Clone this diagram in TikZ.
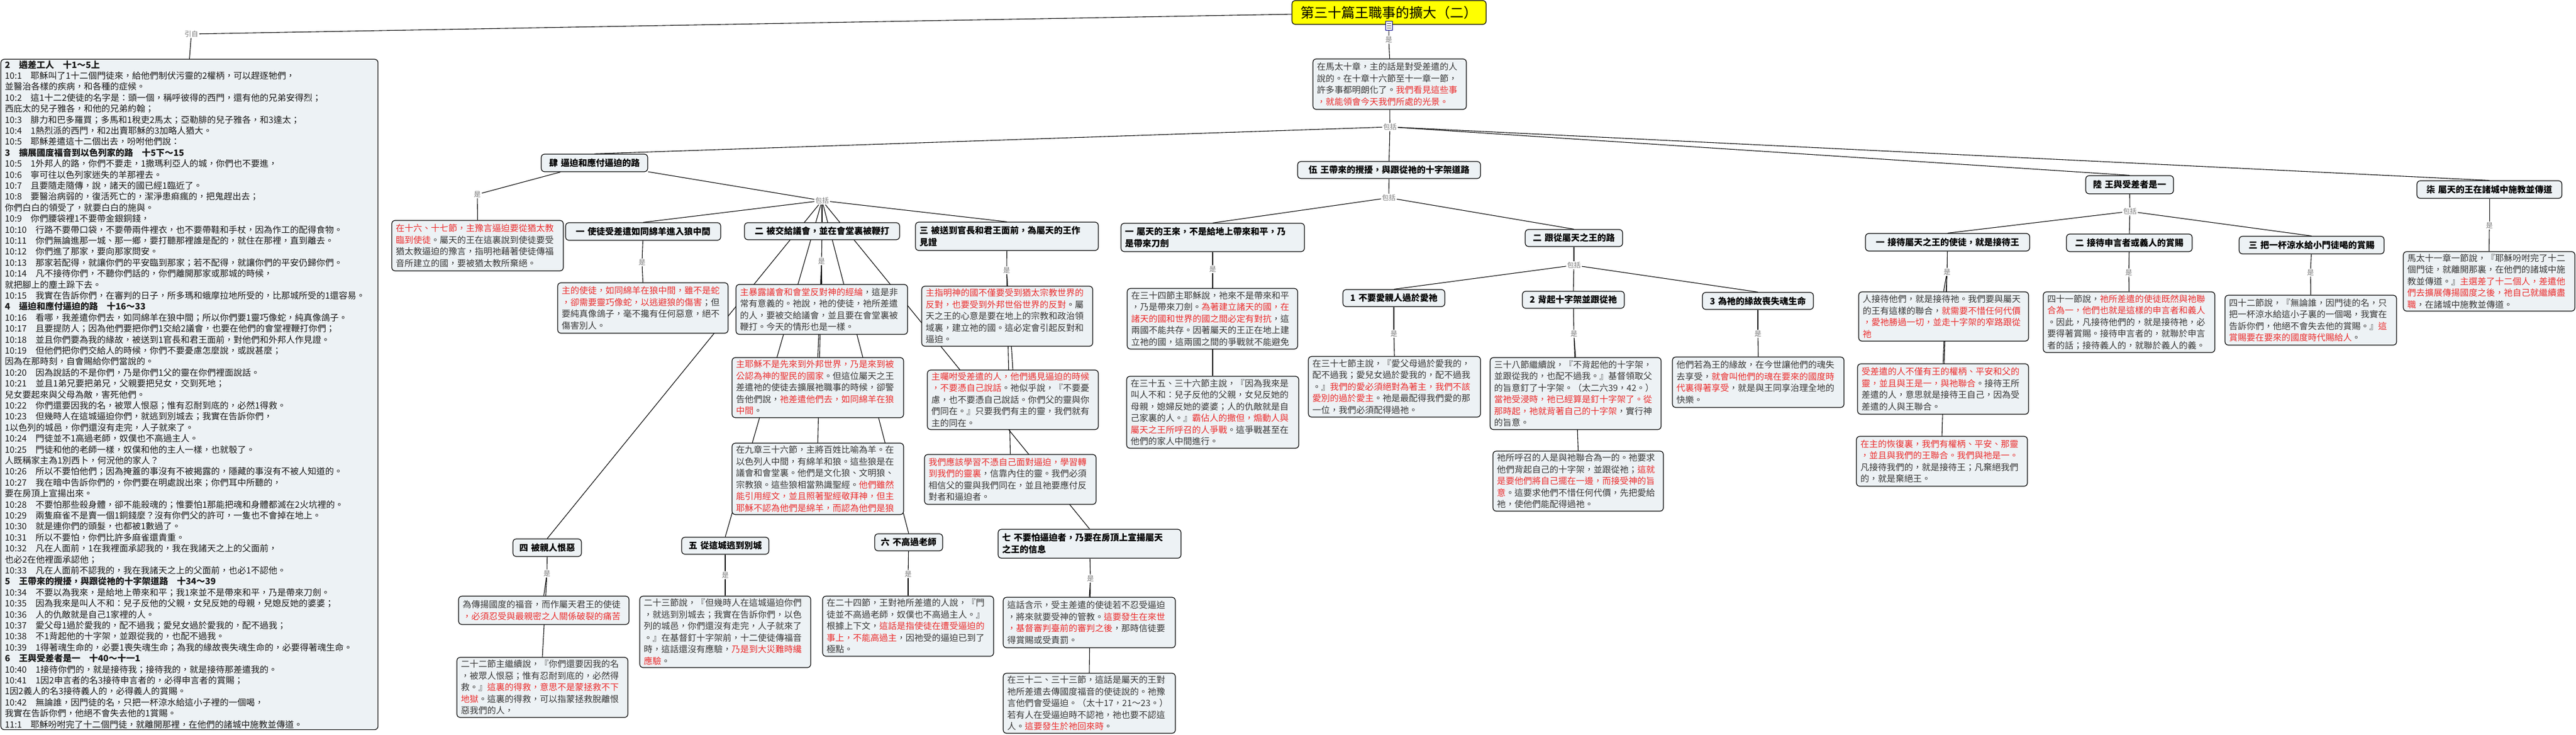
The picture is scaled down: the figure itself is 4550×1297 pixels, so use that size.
\documentclass[tikz,border=0pt]{standalone}
\usepackage{fontspec}
\setmainfont{Noto Sans CJK TC}
\usetikzlibrary{backgrounds}
\definecolor{boxfill}{RGB}{237,242,245}
\definecolor{bodygray}{RGB}{55,55,55}
\definecolor{redtxt}{RGB}{235,45,45}
\definecolor{lblgray}{RGB}{120,120,120}
\definecolor{titleyellow}{RGB}{255,255,0}
\newcommand{\redt}[1]{\textcolor{redtxt}{#1}}
\newcommand{\concept}[7]{%
  \pgfmathsetmacro\cbw{#4-#2}%
  \pgfmathsetmacro\cbh{#5-#3}%
  \pgfmathsetmacro\cbcx{(#2+#4)/2}%
  \pgfmathsetmacro\cbcy{(#3+#5)/2}%
  \pgfmathsetmacro\cbtw{#4-#2-14}%
  \node[#6, minimum width=\cbw pt, minimum height=\cbh pt, text width=\cbtw pt] (#1) at (\cbcx,\cbcy) {#7};%
}
\begin{document}
\begin{tikzpicture}[x=1pt,y=-1pt,
  cpt/.style={draw=black, line width=1.2pt, rounded corners=6pt, fill=boxfill, inner xsep=7pt, inner ysep=2pt, align=left, text=bodygray, font=\fontsize{15.5}{20.5}\selectfont},
  hd/.style={cpt, text=black, font=\fontsize{15.5}{21}\selectfont\bfseries},
  hdc/.style={hd, align=center},
  lbl/.style={fill=white, inner sep=1.5pt, text=lblgray, font=\fontsize{12}{12}\selectfont},
  conn/.style={draw=black, line width=1.1pt}]
\useasboundingbox (0,0) rectangle (4550,1297);

% ---------- title and top ----------
\node[draw=black, line width=1.2pt, rounded corners=6pt, fill=titleyellow, minimum width=343pt, minimum height=42pt, inner sep=0pt, font=\fontsize{24}{24}\selectfont] (title) at (2453.5,22) {第三十篇王職事的擴大（二）};
\node[draw=blue!55!black, fill=white, line width=0.8pt, minimum width=12pt, minimum height=16pt, inner sep=0pt] (docicon) at (2453,45) {};
\foreach \dy in {-4,0,4} \draw[line width=0.8pt, black!70] ([xshift=-3.5pt, yshift=\dy pt]docicon.center) -- ++(7pt,0);

\node[lbl] (lYin) at (338,60) {引自};
\node[lbl] (l0) at (2453,70) {是};
\node[lbl] (l1) at (2455,224) {包括};

\concept{TB}{2319}{104}{2590}{193}{cpt}{在馬太十章，主的話是對受差遣的人\\說的。在十章十六節至十一章一節，\\許多事都明朗化了。\redt{我們看見這些事}\\\redt{，就能領會今天我們所處的光景。}}

% ---------- left scripture box ----------
\node[cpt, anchor=north west, text=black!90, font=\fontsize{15.5}{19.4}\selectfont, text width=652pt, minimum height=1183pt] (LB) at (1,104) {%
{\bfseries 2　遴差工人　十1～5上}\\
10:1　耶穌叫了1十二個門徒來，給他們制伏污靈的2權柄，可以趕逐牠們，\\
並醫治各樣的疾病，和各種的症候。\\
10:2　這1十二2使徒的名字是：頭一個，稱呼彼得的西門，還有他的兄弟安得烈；\\
西庇太的兒子雅各，和他的兄弟約翰；\\
10:3　腓力和巴多羅買；多馬和1稅吏2馬太；亞勒腓的兒子雅各，和3達太；\\
10:4　1熱烈派的西門，和2出賣耶穌的3加略人猶大。\\
10:5　耶穌差遣這十二個出去，吩咐他們說：\\
{\bfseries 3　擴展國度福音到以色列家的路　十5下～15}\\
10:5　1外邦人的路，你們不要走，1撒瑪利亞人的城，你們也不要進，\\
10:6　寧可往以色列家迷失的羊那裡去。\\
10:7　且要隨走隨傳，說，諸天的國已經1臨近了。\\
10:8　要醫治病弱的，復活死亡的，潔淨患痲瘋的，把鬼趕出去；\\
你們白白的領受了，就要白白的施與。\\
10:9　你們腰袋裡1不要帶金銀銅錢，\\
10:10　行路不要帶口袋，不要帶兩件裡衣，也不要帶鞋和手杖，因為作工的配得食物。\\
10:11　你們無論進那一城、那一鄉，要打聽那裡誰是配的，就住在那裡，直到離去。\\
10:12　你們進了那家，要向那家問安。\\
10:13　那家若配得，就讓你們的平安臨到那家；若不配得，就讓你們的平安仍歸你們。\\
10:14　凡不接待你們，不聽你們話的，你們離開那家或那城的時候，\\
就把腳上的塵土跺下去。\\
10:15　我實在告訴你們，在審判的日子，所多瑪和蛾摩拉地所受的，比那城所受的1還容易。\\
{\bfseries 4　逼迫和應付逼迫的路　十16～33}\\
10:16　看哪，我差遣你們去，如同綿羊在狼中間；所以你們要1靈巧像蛇，純真像鴿子。\\
10:17　且要提防人；因為他們要把你們1交給2議會，也要在他們的會堂裡鞭打你們；\\
10:18　並且你們要為我的緣故，被送到1官長和君王面前，對他們和外邦人作見證。\\
10:19　但他們把你們交給人的時候，你們不要憂慮怎麼說，或說甚麼；\\
因為在那時刻，自會賜給你們當說的。\\
10:20　因為說話的不是你們，乃是你們1父的靈在你們裡面說話。\\
10:21　並且1弟兄要把弟兄，父親要把兒女，交到死地；\\
兒女要起來與父母為敵，害死他們。\\
10:22　你們還要因我的名，被眾人恨惡；惟有忍耐到底的，必然1得救。\\
10:23　但幾時人在這城逼迫你們，就逃到別城去；我實在告訴你們，\\
1以色列的城邑，你們還沒有走完，人子就來了。\\
10:24　門徒並不1高過老師，奴僕也不高過主人。\\
10:25　門徒和他的老師一樣，奴僕和他的主人一樣，也就彀了。\\
人既稱家主為1別西卜，何況他的家人？\\
10:26　所以不要怕他們；因為掩蓋的事沒有不被揭露的，隱藏的事沒有不被人知道的。\\
10:27　我在暗中告訴你們的，你們要在明處說出來；你們耳中所聽的，\\
要在房頂上宣揚出來。\\
10:28　不要怕那些殺身體，卻不能殺魂的；惟要怕1那能把魂和身體都滅在2火坑裡的。\\
10:29　兩隻麻雀不是賣一個1銅錢麼？沒有你們父的許可，一隻也不會掉在地上。\\
10:30　就是連你們的頭髮，也都被1數過了。\\
10:31　所以不要怕，你們比許多麻雀還貴重。\\
10:32　凡在人面前，1在我裡面承認我的，我在我諸天之上的父面前，\\
也必2在他裡面承認他；\\
10:33　凡在人面前不認我的，我在我諸天之上的父面前，也必1不認他。\\
{\bfseries 5　王帶來的攪擾，與跟從祂的十字架道路　十34～39}\\
10:34　不要以為我來，是給地上帶來和平；我1來並不是帶來和平，乃是帶來刀劍。\\
10:35　因為我來是叫人不和：兒子反他的父親，女兒反她的母親，兒媳反她的婆婆；\\
10:36　人的仇敵就是自己1家裡的人。\\
10:37　愛父母1過於愛我的，配不過我；愛兒女過於愛我的，配不過我；\\
10:38　不1背起他的十字架，並跟從我的，也配不過我。\\
10:39　1得著魂生命的，必要1喪失魂生命；為我的緣故喪失魂生命的，必要得著魂生命。\\
{\bfseries 6　王與受差者是一　十40～十一1}\\
10:40　1接待你們的，就是接待我；接待我的，就是接待那差遣我的。\\
10:41　1因2申言者的名3接待申言者的，必得申言者的賞賜；\\
1因2義人的名3接待義人的，必得義人的賞賜。\\
10:42　無論誰，因門徒的名，只把一杯涼水給這小子裡的一個喝，\\
我實在告訴你們，他絕不會失去他的1賞賜。\\
11:1　耶穌吩咐完了十二個門徒，就離開那裡，在他們的諸城中施教並傳道。};

% ---------- 肆 ----------
\concept{S4}{956}{272}{1144}{303}{hdc}{肆 逼迫和應付逼迫的路}
\node[lbl] (lS4) at (843,343) {是};
\node[lbl] (lB4) at (1452,354) {包括};
\concept{RB}{692}{389}{995}{478}{cpt}{\redt{在十六、十七節，主豫言逼迫要從猶太教}\\\redt{臨到使徒}。屬天的王在這裏說到使徒要受\\猶太教逼迫的豫言，指明祂藉著使徒傳福\\音所建立的國，要被猶太教所棄絕。}
\concept{S4a}{999}{393}{1273}{424}{hdc}{一 使徒受差遣如同綿羊進入狼中間}
\concept{S4b}{1315}{393}{1589}{423}{hdc}{二 被交給議會，並在會堂裏被鞭打}
\concept{S4c}{1617}{392}{1940}{442}{hd}{三 被送到官長和君王面前，為屬天的王作\\見證}
\concept{S4d}{906}{951}{1027}{982}{hdc}{四 被親人恨惡}
\concept{S4e}{1204}{948}{1358}{978}{hdc}{五 從這城逃到別城}
\concept{S4f}{1545}{942}{1665}{972}{hdc}{六 不高過老師}
\concept{S4g}{1763}{934}{2086}{985}{hd}{七 不要怕逼迫者，乃要在房頂上宣揚屬天\\之王的信息}

\node[lbl] (l4a) at (1134,463) {是};
\node[lbl] (l4b) at (1451,461) {是};
\node[lbl] (l4c) at (1778,477) {是};
\node[lbl] (l4d) at (966,1012) {是};
\node[lbl] (l4e) at (1281,1015) {是};
\node[lbl] (l4f) at (1604,1013) {是};
\node[lbl] (l4g) at (1926,1021) {是};

\concept{A1}{985}{499}{1286}{588}{cpt}{\redt{主的使徒，如同綿羊在狼中間，雖不是蛇}\\\redt{，卻需要靈巧像蛇，以逃避狼的傷害}；但\\要純真像鴿子，毫不攙有任何惡意，絕不\\傷害別人。}
\concept{A}{1300}{502}{1603}{590}{cpt}{\redt{主暴露議會和會堂反對神的經綸}，這是非\\常有意義的。祂說，祂的使徒，祂所差遣\\的人，要被交給議會，並且要在會堂裏被\\鞭打。今天的情形也是一樣。}
\concept{B}{1293}{631}{1596}{737}{cpt}{\redt{主耶穌不是先來到外邦世界，乃是來到被}\\\redt{公認為神的聖民的國家}。但這位屬天之王\\差遣祂的使徒去擴展祂職事的時候，卻警\\告他們說，\redt{祂差遣他們去，如同綿羊在狼}\\\redt{中間}。}
\concept{C}{1293}{782}{1596}{908}{cpt}{在九章三十六節，主將百姓比喻為羊。在\\以色列人中間，有綿羊和狼。這些狼是在\\議會和會堂裏。他們是文化狼、文明狼、\\宗教狼。這些狼相當熟識聖經。\redt{他們雖然}\\\redt{能引用經文，並且照著聖經敬拜神，但主}\\\redt{耶穌不認為他們是綿羊，而認為他們是狼}}
\concept{D}{1628}{505}{1930}{611}{cpt}{\redt{主指明神的國不僅要受到猶太宗教世界的}\\\redt{反對，也要受到外邦世俗世界的反對}。屬\\天之王的心意是要在地上的宗教和政治領\\域裏，建立祂的國。這必定會引起反對和\\逼迫。}
\concept{E}{1638}{653}{1940}{758}{cpt}{\redt{主囑咐受差遣的人，他們遇見逼迫的時候}\\\redt{，不要憑自己說話}。祂似乎說，『不要憂\\慮，也不要憑自己說話。你們父的靈與你\\們同在。』只要我們有主的靈，我們就有\\主的同在。}
\concept{F}{1633}{802}{1936}{890}{cpt}{\redt{我們應該學習不憑自己面對逼迫，學習轉}\\\redt{到我們的靈裏}，信靠內住的靈。我們必須\\相信父的靈與我們同在，並且祂要應付反\\對者和逼迫者。}
\concept{G}{810}{1052}{1111}{1102}{cpt}{為傳揚國度的福音，而作屬天君王的使徒\\\redt{，必須忍受與最親密之人關係破裂的痛苦}}
\concept{H}{807}{1160}{1109}{1266}{cpt}{二十二節主繼續說，『你們還要因我的名\\，被眾人恨惡；惟有忍耐到底的，必然得\\救。』\redt{這裏的得救，意思不是蒙拯救不下}\\\redt{地獄}。這裏的得救，可以指蒙拯救脫離恨\\惡我們的人，}
\concept{I}{1130}{1052}{1432}{1178}{cpt}{二十三節說，『但幾時人在這城逼迫你們\\，就逃到別城去；我實在告訴你們，以色\\列的城邑，你們還沒有走完，人子就來了\\。』在基督釘十字架前，十二使徒傳福音\\時，這話還沒有應驗，\redt{乃是到大災難時纔}\\\redt{應驗}。}
\concept{J}{1453}{1052}{1755}{1158}{cpt}{在二十四節，王對祂所差遣的人說，『門\\徒並不高過老師，奴僕也不高過主人。』\\根據上下文，\redt{這話是指使徒在遭受逼迫的}\\\redt{事上，不能高過主}，因祂受的逼迫已到了\\極點。}
\concept{K}{1772}{1054}{2076}{1143}{cpt}{這話含示，受主差遣的使徒若不忍受逼迫\\，將來就要受神的管教。\redt{這要發生在來世}\\\redt{，基督審判臺前的審判之後}，那時信徒要\\得賞賜或受責罰。}
\concept{L}{1772}{1188}{2076}{1294}{cpt}{在三十二、三十三節，這話是屬天的王對\\祂所差遣去傳國度福音的使徒說的。祂豫\\言他們會受逼迫。（太十17，21～23。）\\若有人在受逼迫時不認祂，祂也要不認這\\人。\redt{這要發生於祂回來時}。}

% ---------- 伍 ----------
\concept{S5}{2292}{285}{2615}{315}{hdc}{伍 王帶來的攪擾，與跟從祂的十字架道路}
\node[lbl] (l5) at (2453,349) {包括};
\concept{S5a}{1980}{394}{2304}{444}{hd}{一 屬天的王來，不是給地上帶來和平，乃\\是帶來刀劍}
\concept{S5b}{2694}{405}{2866}{435}{hdc}{二 跟從屬天之王的路}
\node[lbl] (l5a) at (2142,475) {是};
\node[lbl] (l5b) at (2780,468) {包括};
\concept{X1}{1991}{509}{2292}{616}{cpt}{在三十四節主耶穌說，祂來不是帶來和平\\，乃是帶來刀劍。\redt{為著建立諸天的國，在}\\\redt{諸天的國和世界的國之間必定有對抗}，這\\兩國不能共存。因著屬天的王正在地上建\\立祂的國，這兩國之間的爭戰就不能避免}
\concept{M}{1990}{664}{2294}{791}{cpt}{在三十五、三十六節主說，『因為我來是\\叫人不和：兒子反他的父親，女兒反她的\\母親，媳婦反她的婆婆；人的仇敵就是自\\己家裏的人。』\redt{霸佔人的撒但，煽動人與}\\\redt{屬天之王所呼召的人爭戰}。這爭戰甚至在\\他們的家人中間進行。}
\concept{S5b1}{2372}{511}{2552}{541}{hdc}{1 不要愛親人過於愛祂}
\concept{S5b2}{2689}{514}{2869}{544}{hdc}{2 背起十字架並跟從祂}
\concept{S5b3}{3007}{516}{3203}{546}{hdc}{3 為祂的緣故喪失魂生命}
\node[lbl] (l5b1) at (2462,589) {是};
\node[lbl] (l5b2) at (2780,589) {是};
\node[lbl] (l5b3) at (3105,589) {是};
\concept{N}{2311}{629}{2615}{736}{cpt}{在三十七節主說，『愛父母過於愛我的，\\配不過我；愛兒女過於愛我的，配不過我\\。』\redt{我們的愛必須絕對為著主，我們不該}\\\redt{愛別的過於愛主}。祂是最配得我們愛的那\\一位，我們必須配得過祂。}
\concept{O}{2632}{631}{2934}{758}{cpt}{三十八節繼續說，『不背起他的十字架，\\並跟從我的，也配不過我。』基督領取父\\的旨意釘了十字架。（太二六39，42。）\\\redt{當祂受浸時，祂已經算是釘十字架了。從}\\\redt{那時起，祂就背著自己的十字架}，實行神\\的旨意。}
\concept{P}{2637}{796}{2938}{902}{cpt}{祂所呼召的人是與祂聯合為一的。祂要求\\他們背起自己的十字架，並跟從祂；\redt{這就}\\\redt{是要他們將自己擺在一邊，而接受神的旨}\\\redt{意}。這要求他們不惜任何代價，先把愛給\\祂，使他們能配得過祂。}
\concept{Q}{2954}{630}{3257}{719}{cpt}{他們若為王的緣故，在今世讓他們的魂失\\去享受，\redt{就會叫他們的魂在要來的國度時}\\\redt{代裏得著享受}，就是與王同享治理全地的\\快樂。}

% ---------- 陸 ----------
\concept{S6}{3684}{310}{3839}{342}{hdc}{陸 王與受差者是一}
\node[lbl] (l6) at (3762,373) {包括};
\concept{S6a}{3295}{412}{3585}{443}{hdc}{一 接待屬天之王的使徒，就是接待王}
\concept{S6b}{3650}{413}{3872}{444}{hdc}{二 接待申言者或義人的賞賜}
\concept{S6c}{3955}{417}{4211}{448}{hdc}{三 把一杯涼水給小門徒喝的賞賜}
\node[lbl] (l6a) at (3439,480) {是};
\node[lbl] (l6b) at (3760,481) {是};
\node[lbl] (l6c) at (4081,481) {是};
\concept{R}{3283}{515}{3583}{602}{cpt}{人接待他們，就是接待祂。我們要與屬天\\的王有這樣的聯合，\redt{就需要不惜任何代價}\\\redt{，愛祂勝過一切，並走十字架的窄路跟從}\\\redt{祂}}
\concept{S}{3281}{642}{3583}{731}{cpt}{\redt{受差遣的人不僅有王的權柄、平安和父的}\\\redt{靈，並且與王是一，與祂聯合}。接待王所\\差遣的人，意思就是接待王自己，因為受\\差遣的人與王聯合。}
\concept{T}{3279}{770}{3581}{858}{cpt}{\redt{在主的恢復裏，我們有權柄、平安、那靈}\\\redt{，並且與我們的王聯合。我們與祂是一。}\\凡接待我們的，就是接待王；凡棄絕我們\\的，就是棄絕王。}
\concept{U}{3609}{515}{3912}{622}{cpt}{四十一節說，\redt{祂所差遣的使徒既然與祂聯}\\\redt{合為一，他們也就是這樣的申言者和義人}\\。因此，凡接待他們的，就是接待祂，必\\要得著賞賜。接待申言者的，就聯於申言\\者的話；接待義人的，就聯於義人的義。}
\concept{V}{3930}{521}{4233}{609}{cpt}{四十二節說，『無論誰，因門徒的名，只\\把一杯涼水給這小子裏的一個喝，我實在\\告訴你們，他絕不會失去他的賞賜。』\redt{這}\\\redt{賞賜要在要來的國度時代賜給人}。}

% ---------- 柒 ----------
\concept{S7}{4269}{319}{4525}{350}{hdc}{柒 屬天的王在諸城中施教並傳道}
\node[lbl] (l7) at (4397,398) {是};
\concept{W}{4245}{444}{4548}{549}{cpt}{馬太十一章一節說，『耶穌吩咐完了十二\\個門徒，就離開那裏，在他們的諸城中施\\教並傳道。』\redt{主選差了十二個人，差遣他}\\\redt{們去擴展傳揚國度之後，祂自己就繼續盡}\\\redt{職}，在諸城中施教並傳道。}

% ---------- connectors (behind the boxes) ----------
\begin{scope}[on background layer]
\fill[white] (0,0) rectangle (4550,1297);
\draw[conn] (title) -- (lYin); \draw[conn] (lYin) -- (LB.north);
\draw[conn] (title) -- (l0); \draw[conn] (l0) -- (TB.north);
\draw[conn] (TB) -- (l1);
\foreach \c in {S4,S5,S6,S7} \draw[conn] (l1) -- (\c.north);
% 肆
\draw[conn] (S4) -- (lS4); \draw[conn] (lS4) -- (RB.north);
\draw[conn] (S4) -- (lB4);
\foreach \c in {S4a,S4b,S4c,S4d,S4e,S4f,S4g} \draw[conn] (lB4) -- (\c.north);
\draw[conn] (S4a) -- (l4a); \draw[conn] (l4a) -- (A1.north);
\draw[conn] (S4b) -- (l4b);
\foreach \c in {A,B,C} \draw[conn] (l4b) -- (\c.north);
\draw[conn] (S4c) -- (l4c);
\foreach \c in {D,E,F} \draw[conn] (l4c) -- (\c.north);
\draw[conn] (S4d) -- (l4d);
\foreach \c in {G,H} \draw[conn] (l4d) -- (\c.north);
\draw[conn] (S4e) -- (l4e); \draw[conn] (l4e) -- (I.north);
\draw[conn] (S4f) -- (l4f); \draw[conn] (l4f) -- (J.north);
\draw[conn] (S4g) -- (l4g);
\foreach \c in {K,L} \draw[conn] (l4g) -- (\c.north);
% 伍
\draw[conn] (S5) -- (l5);
\foreach \c in {S5a,S5b} \draw[conn] (l5) -- (\c.north);
\draw[conn] (S5a) -- (l5a);
\foreach \c in {X1,M} \draw[conn] (l5a) -- (\c.north);
\draw[conn] (S5b) -- (l5b);
\foreach \c in {S5b1,S5b2,S5b3} \draw[conn] (l5b) -- (\c.north);
\draw[conn] (S5b1) -- (l5b1); \draw[conn] (l5b1) -- (N.north);
\draw[conn] (S5b2) -- (l5b2);
\foreach \c in {O,P} \draw[conn] (l5b2) -- (\c.north);
\draw[conn] (S5b3) -- (l5b3); \draw[conn] (l5b3) -- (Q.north);
% 陸
\draw[conn] (S6) -- (l6);
\foreach \c in {S6a,S6b,S6c} \draw[conn] (l6) -- (\c.north);
\draw[conn] (S6a) -- (l6a);
\foreach \c in {R,S,T} \draw[conn] (l6a) -- (\c.north);
\draw[conn] (S6b) -- (l6b); \draw[conn] (l6b) -- (U.north);
\draw[conn] (S6c) -- (l6c); \draw[conn] (l6c) -- (V.north);
% 柒
\draw[conn] (S7) -- (l7); \draw[conn] (l7) -- (W.north);
\end{scope}
\end{tikzpicture}
\end{document}
